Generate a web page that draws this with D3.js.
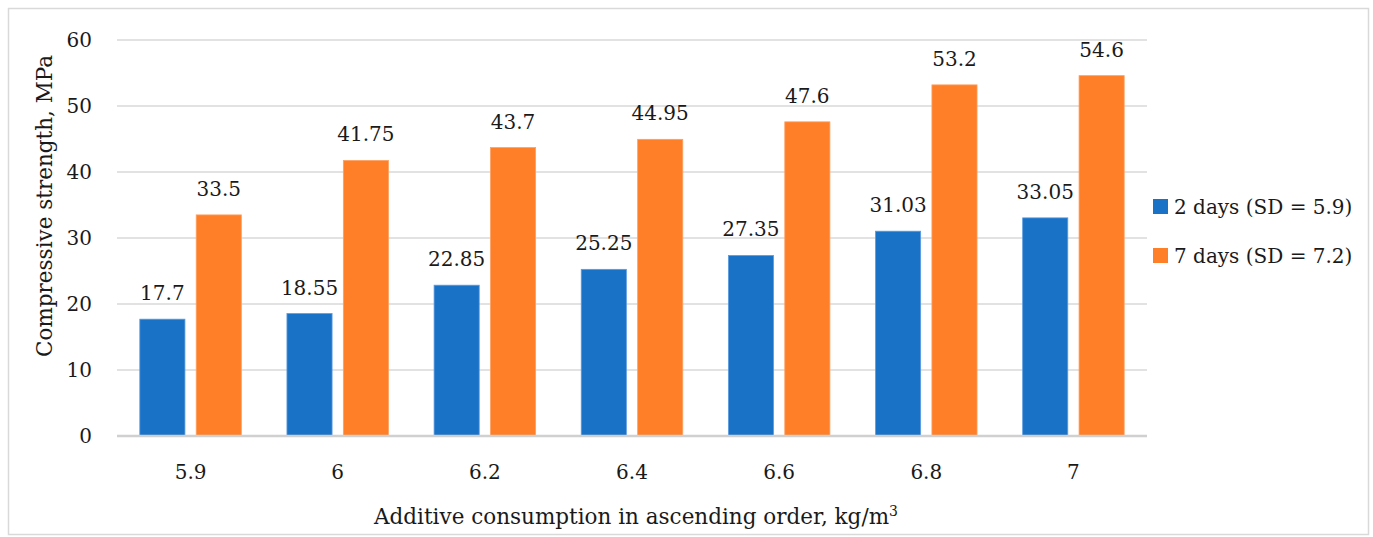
<!DOCTYPE html>
<html>
<head>
<meta charset="utf-8">
<script src="https://cdn.jsdelivr.net/npm/d3@7"></script>
<style>
  html, body { margin: 0; padding: 0; background: #fff; }
  #chart text { fill: #1a1a1a; }
</style>
</head>
<body>
<svg id="chart" width="1373" height="537"></svg>
<script>
// Additive consumption (kg/m3) and compressive strength (MPa)
const categories = ["5.9", "6", "6.2", "6.4", "6.6", "6.8", "7"];
const days2 = [17.7, 18.55, 22.85, 25.25, 27.35, 31.03, 33.05];
const days7 = [33.5, 41.75, 43.7, 44.95, 47.6, 53.2, 54.6];
const seriesNames = ["2 days (SD = 5.9)", "7 days (SD = 7.2)"];
const yTicks = [0, 10, 20, 30, 40, 50, 60];

const colors = ["#1a72c7", "#fe7f28"];
const fontSize = 20;
const titleSize = 21.5;
const fontFamily = "'DejaVu Serif', serif";

const svg = d3.select("#chart").attr("font-family", fontFamily);

// outer frame
svg.append("rect")
  .attr("x", 8.5).attr("y", 8.5)
  .attr("width", 1360).attr("height", 526)
  .attr("fill", "#fff").attr("stroke", "#d9d9d9").attr("stroke-width", 1.5);

const plot = { left: 117, right: 1147, top: 40, bottom: 436 };

const x = d3.scaleBand()
  .domain(categories)
  .range([plot.left, plot.right])
  .paddingInner(0.31)
  .paddingOuter(0.155);

const x2 = d3.scaleBand()
  .domain([0, 1])
  .range([0, x.bandwidth()])
  .paddingInner(0.2);

const y = d3.scaleLinear().domain([0, 60]).range([plot.bottom, plot.top]);

// gridlines
svg.append("g")
  .selectAll("line")
  .data(yTicks.filter(d => d !== 0))
  .join("line")
  .attr("x1", plot.left).attr("x2", plot.right)
  .attr("y1", d => y(d)).attr("y2", d => y(d))
  .attr("stroke", "#d9d9d9").attr("stroke-width", 1.5);

// y tick labels
svg.append("g")
  .selectAll("text")
  .data(yTicks)
  .join("text")
  .attr("x", 92)
  .attr("y", d => y(d))
  .attr("dy", "0.35em")
  .attr("text-anchor", "end")
  .attr("font-size", fontSize)
  .text(d => d);

const groups = categories.map((c, i) => ({ cat: c, vals: [days2[i], days7[i]] }));

const g = svg.append("g")
  .selectAll("g")
  .data(groups)
  .join("g")
  .attr("transform", d => `translate(${x(d.cat)},0)`);

g.selectAll("rect")
  .data(d => d.vals.map((v, k) => ({ v, k })))
  .join("rect")
  .attr("x", d => x2(d.k))
  .attr("y", d => y(d.v))
  .attr("width", x2.bandwidth())
  .attr("height", d => y(0) - y(d.v))
  .attr("fill", d => colors[d.k])
  .attr("stroke", d => d.k === 0 ? "#5b9be0" : "#ffa060")
  .attr("stroke-width", 0.8);

g.selectAll("text.val")
  .data(d => d.vals.map((v, k) => ({ v, k })))
  .join("text")
  .attr("class", "val")
  .attr("x", d => x2(d.k) + x2.bandwidth() / 2)
  .attr("y", d => y(d.v) - 19)
  .attr("text-anchor", "middle")
  .attr("font-size", fontSize)
  .text(d => d.v);

// baseline
svg.append("line")
  .attr("x1", plot.left).attr("x2", plot.right)
  .attr("y1", y(0)).attr("y2", y(0))
  .attr("stroke", "#d0d0d0").attr("stroke-width", 2.5);

// x tick labels
svg.append("g")
  .selectAll("text")
  .data(categories)
  .join("text")
  .attr("x", d => x(d) + x.bandwidth() / 2)
  .attr("y", 479)
  .attr("text-anchor", "middle")
  .attr("font-size", fontSize)
  .text(d => d);

// axis titles
const xt = svg.append("text")
  .attr("x", 636)
  .attr("y", 524)
  .attr("text-anchor", "middle")
  .attr("font-size", titleSize);
xt.append("tspan").text("Additive consumption in ascending order, kg/m");
xt.append("tspan").attr("dy", -8).attr("font-size", 14).text("3");

svg.append("text")
  .attr("transform", "translate(52,206) rotate(-90)")
  .attr("text-anchor", "middle")
  .attr("font-size", titleSize)
  .text("Compressive strength, MPa");

// legend
const leg = svg.append("g")
  .selectAll("g")
  .data(seriesNames)
  .join("g")
  .attr("transform", (d, i) => `translate(1153,${199 + i * 49})`);
leg.append("rect")
  .attr("width", 15).attr("height", 15)
  .attr("fill", (d, i) => colors[i]);
leg.append("text")
  .attr("x", 21).attr("y", 7.5).attr("dy", "0.35em")
  .attr("font-size", fontSize)
  .text(d => d);
</script>
</body>
</html>
